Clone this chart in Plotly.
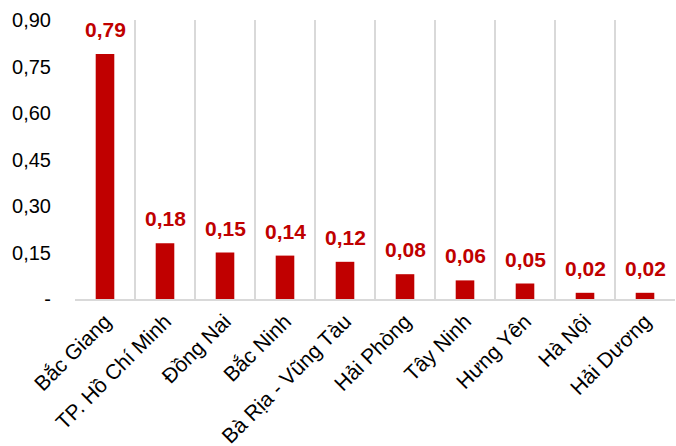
import plotly.graph_objects as go

provinces = ["Bắc Giang", "TP. Hồ Chí Minh", "Đồng Nai", "Bắc Ninh", "Bà Rịa - Vũng Tàu",
             "Hải Phòng", "Tây Ninh", "Hưng Yên", "Hà Nội", "Hải Dương"]
values = [0.79, 0.18, 0.15, 0.14, 0.12, 0.08, 0.06, 0.05, 0.02, 0.02]
y_tickvals = [0, 0.15, 0.30, 0.45, 0.60, 0.75, 0.90]
y_ticktext = ["-", "0,15", "0,30", "0,45", "0,60", "0,75", "0,90"]

RED = "#C00000"
GRID = "#D9D9D9"
FONT = "Arial, Liberation Sans, sans-serif"

fig = go.Figure(
    go.Bar(x=provinces, y=values, marker=dict(color=RED, line=dict(width=0)),
           hoverinfo="skip")
)

# value labels above each bar
for p, v in zip(provinces, values):
    fig.add_annotation(x=p, y=v, text=f"{v:.2f}".replace(".", ","),
                       showarrow=False, yanchor="bottom", yshift=11,
                       font=dict(family=FONT, size=21, color=RED, weight="bold"))

fig.update_layout(
    width=676, height=446,
    margin=dict(l=75, r=1, t=20, b=147),
    paper_bgcolor="white", plot_bgcolor="white",
    bargap=0.69, showlegend=False,
    font=dict(family=FONT, size=20, color="black"),
    xaxis=dict(
        type="category", tickson="boundaries", showgrid=True, automargin=False,
        gridcolor=GRID, gridwidth=1.5, tickangle=-45, ticks="",
        showline=True, linecolor=GRID, linewidth=1.5,
        tickfont=dict(family=FONT, size=21, color="black"),
    ),
    yaxis=dict(
        range=[0, 0.9], tickvals=y_tickvals, ticktext=y_ticktext,
        showgrid=False, zeroline=False, showline=False, ticks="",
        ticklabelstandoff=23, automargin=False,
        tickfont=dict(family=FONT, size=20, color="black"),
    ),
)

fig.write_html("out.html")
